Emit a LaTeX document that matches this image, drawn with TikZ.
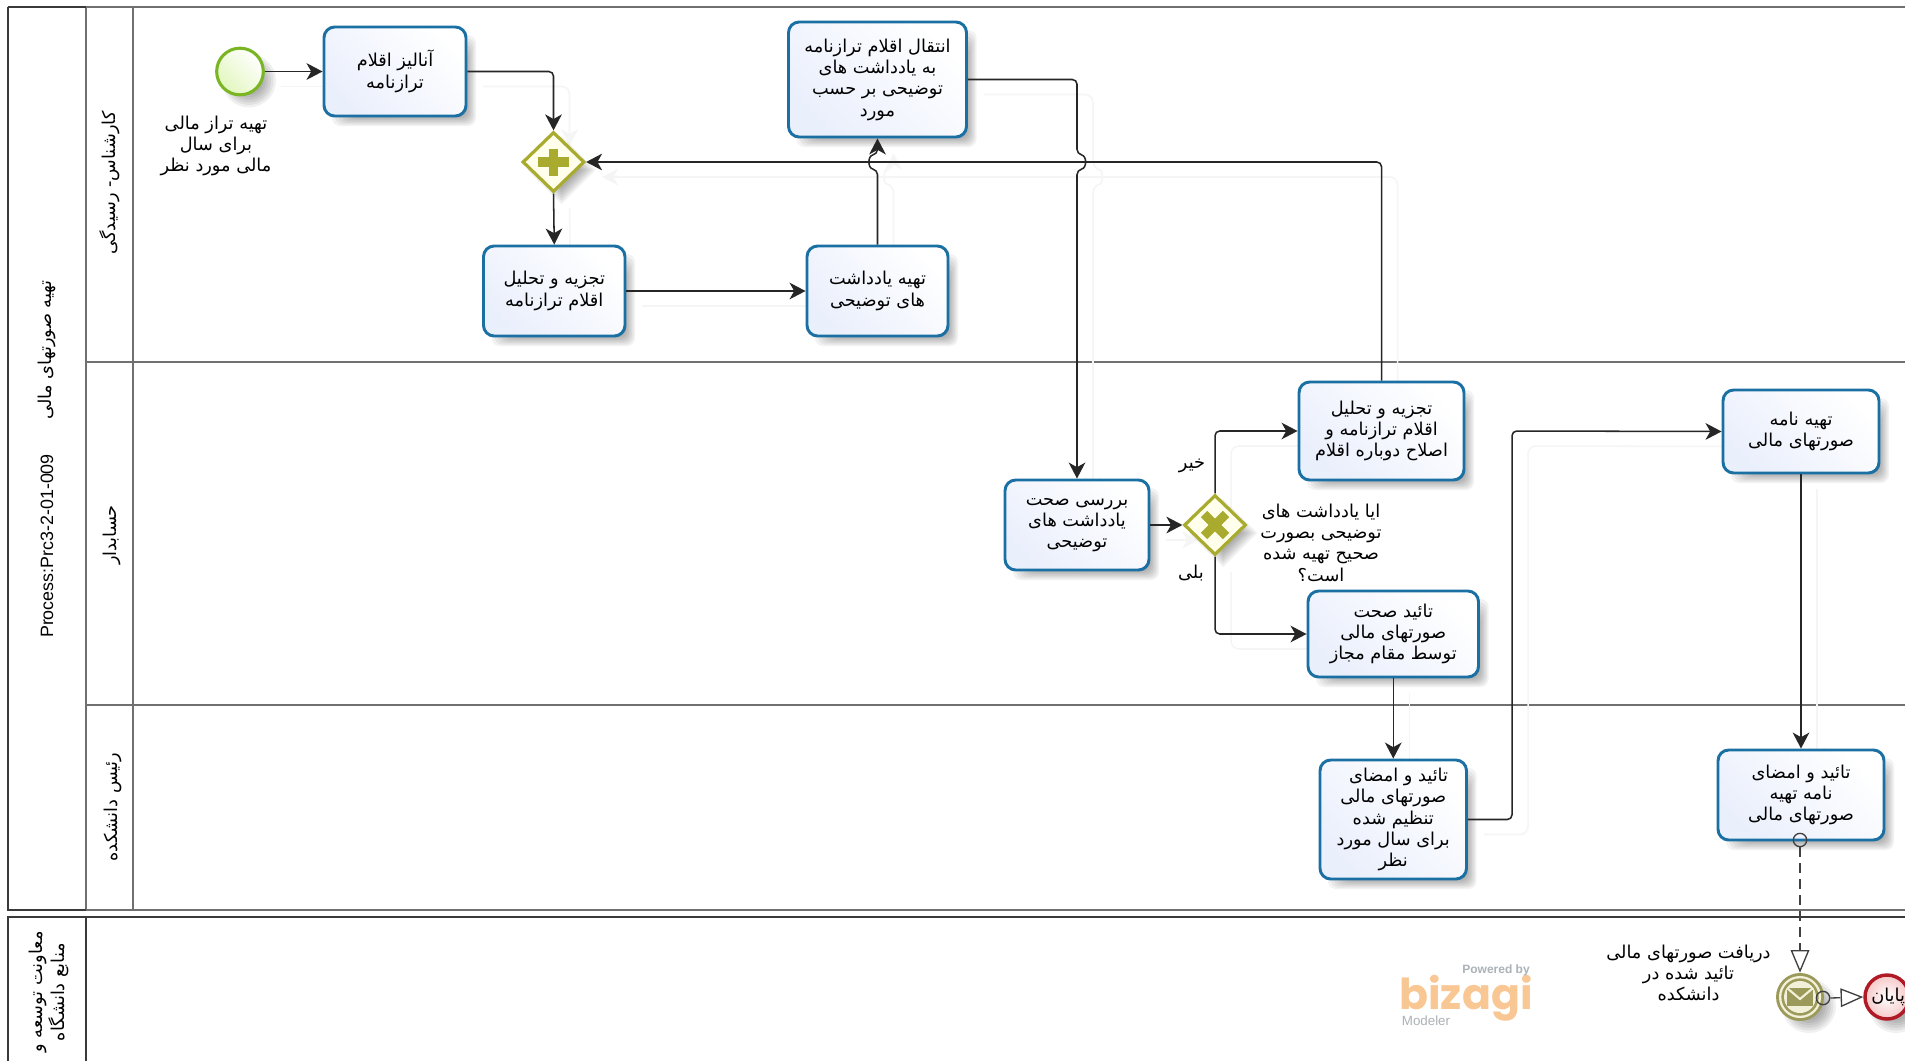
\documentclass[tikz,border=0pt]{standalone}
\usepackage{fontspec}
\usetikzlibrary{arrows.meta,shapes.geometric}
\TeXXeTstate=1
\newfontfamily\arabicfont[Script=Arabic]{DejaVu Sans}
\newfontfamily\latinfont{Liberation Sans}
\newfontfamily\logofont{Poppins}
\newcommand{\fa}[1]{{\arabicfont\beginR #1\endR}}
\definecolor{taskline}{HTML}{1A6FA3}
\definecolor{taskfill}{HTML}{EAEFFC}
\definecolor{gateline}{HTML}{A9AB2E}
\definecolor{gatefill}{HTML}{FFFFEC}
\definecolor{poolline}{HTML}{707070}
\definecolor{pooldark}{HTML}{3A3A3A}
\definecolor{msgolive}{HTML}{9B9A5A}
\definecolor{msgcream}{HTML}{F2F0D8}
\definecolor{logoorange}{HTML}{F9C793}
\definecolor{logogray}{HTML}{ABB2B8}
\definecolor{startline}{HTML}{7AB523}
\definecolor{startfill}{HTML}{E2F6BE}
\definecolor{endline}{HTML}{B01A26}
\definecolor{endfill}{HTML}{F6C8C8}
\pgfdeclarelayer{bg}
\pgfsetlayers{bg,main}
\tikzset{
  x=0.75pt,y=-0.75pt,
  taskbox/.style={draw=taskline,line width=2.2pt,rounded corners=8pt,shading=axis,
    top color=white,bottom color=taskfill,shading angle=-45,inner sep=0pt,align=center,
    font=\fontsize{13.3}{16}\selectfont},
  lbl/.style={inner sep=0pt,align=center,font=\fontsize{13.3}{16}\selectfont},
  lanelbl/.style={inner sep=0pt,align=center,rotate=90,font=\fontsize{13.3}{16}\selectfont},
  gatebox/.style={diamond,draw=gateline,line width=2.4pt,fill=gatefill,inner sep=0pt,
    minimum width=46.5pt,minimum height=45pt},
  gatemark/.style={draw=gateline,line width=6.8pt},
  flow/.style={draw=black!85,line width=1.15pt,rounded corners=3.5pt,
    -{Stealth[length=12pt,width=12.5pt,inset=3.5pt]}},
  msgflow/.style={draw=black!75,line width=1pt,dash pattern=on 7.5pt off 4.5pt,
    -{Triangle[open,length=17pt,width=14pt,fill=white]}},
  srccircle/.style={circle,draw=black!75,line width=1pt,fill=none,inner sep=0pt,minimum size=10pt},
  poolthin/.style={draw=poolline,line width=1.2pt},
  pooldarkline/.style={draw=pooldark,line width=1.4pt},
}
\newcommand{\softrect}[4]{%
  \foreach \i in {0,...,6}{%
    \pgfmathsetmacro{\xa}{#1+8+3*\i}\pgfmathsetmacro{\ya}{#2+8+3*\i}%
    \pgfmathsetmacro{\xb}{#3+10-1.5*\i}\pgfmathsetmacro{\yb}{#4+10-1.5*\i}%
    \fill[black,opacity=.05,rounded corners=6pt] (\xa,\ya) rectangle (\xb,\yb);}}
\newcommand{\softdisc}[3]{%
  \foreach \i in {0,...,5}{%
    \pgfmathsetmacro{\rr}{#3+3-2.5*\i}%
    \fill[black,opacity=.06] (#1+9,#2+9) circle ({\rr*0.75pt});}}
\newcommand{\softdiamond}[3]{%
  \foreach \i in {0,...,5}{%
    \pgfmathsetmacro{\rr}{#3+3-3*\i}%
    \fill[black,opacity=.06] (#1+8+\rr,#2+8) -- (#1+8,#2+8+\rr) -- (#1+8-\rr,#2+8) -- (#1+8,#2+8-\rr) -- cycle;}}
\newcommand{\mytask}[6]{%
  \softrect{#2}{#3}{#4}{#5}%
  \pgfmathsetmacro{\cx}{(#2+#4)/2}\pgfmathsetmacro{\cy}{(#3+#5)/2}%
  \pgfmathsetmacro{\ww}{(#4-#2)*0.75}\pgfmathsetmacro{\hh}{(#5-#3)*0.75}%
  \node[taskbox,minimum width=\ww pt,minimum height=\hh pt] (#1) at (\cx,\cy) {#6};}
\newcommand{\allflows}{%
  \draw[flow] (start.east) -- (t1.west);
  \draw[flow] (t1.east) -| (g1.north);
  \draw[flow] (g1.south) -- (t2.north);
  \draw[flow] (t2.east) -- (t3.west);
  \draw[flow] (t3.north) -- (hopa) .. controls ([shift={(-10,-2)}]hopa) and ([shift={(-10,-14)}]hopa) .. ([shift={(0,-16)}]hopa) -- (t4.south);
  \draw[flow] (t4.east) -| (hopb) .. controls ([shift={(10,2)}]hopb) and ([shift={(10,14)}]hopb) .. ([shift={(0,16)}]hopb) -- (t5.north);
  \draw[flow] (t6.north) |- (g1.east);
  \draw[flow] (t5.east) -- (g2.west);
  \draw[flow] (g2.north) |- (t6.west);
  \draw[flow] (g2.south) |- (t7.west);
  \draw[flow] (t7.south) -- (t8.north);
  \draw[flow] (t8.east) -| (bendc) -- (t10.west);
  \draw[flow] (t10.south) -- (t9.north);
}
\begin{document}
\begin{tikzpicture}
\path[use as bounding box,clip] (0,0) rectangle (1905,1061);
\begin{pgfonlayer}{bg}
  \fill[white] (0,0) rectangle (1905,1061);
  % pools and lanes
  \draw[poolthin] (8,7) -- (1905,7);
  \draw[poolthin] (86,362) -- (1905,362);
  \draw[poolthin] (86,705) -- (1905,705);
  \draw[poolthin] (133,7) -- (133,910);
  \draw[poolthin] (86,7) -- (86,910);
  \draw[poolthin] (8,910) -- (1905,910);
  \draw[pooldarkline] (8,7) -- (8,910) -- (86,910);
  \draw[pooldarkline] (8,7) -- (86,7);
  \draw[pooldarkline] (8,1061) -- (8,917) -- (1905,917);
  \draw[pooldarkline] (86,917) -- (86,1061);
\end{pgfonlayer}
% pool and lane titles
\node[inner sep=0pt,rotate=90,font=\latinfont\fontsize{13.4}{15}\selectfont] (proc) at (47,546) {Process:Prc3-2-01-009};
\node[lanelbl] (pooltitle) at (47,350) {\fa{تهیه  صورتهای  مالی}};
\node[lanelbl] (lanea) at (110,183) {\fa{کارشناس- رسیدگی}};
\node[lanelbl] (laneb) at (112,535) {\fa{حسابدار}};
\node[lanelbl] (lanec) at (113,807) {\fa{رئیس دانشکده}};
\node[lanelbl] (pooltwo) at (49,992) {\fa{معاونت توسعه و}\\\fa{منابع دانشگاه}};
% start event
\softdisc{240}{71.5}{24}
\node[circle,draw=startline,line width=2.3pt,inner sep=0pt,minimum size=35pt,shading=axis,top color=white,bottom color=startfill,shading angle=-45] (start) at (240,71.5) {};
\node[lbl] (startlbl) at (216,146) {\fa{تهیه تراز مالی}\\\fa{برای سال}\\\fa{مالی مورد نظر}};
% tasks
\mytask{t1}{324}{27}{466}{116}{\fa{آنالیز اقلام}\\\fa{ترازنامه}}
\mytask{t2}{483.5}{246}{625}{336}{\fa{تجزیه و تحلیل}\\\fa{اقلام ترازنامه}}
\mytask{t3}{807}{246}{948}{336}{\fa{تهیه یادداشت}\\\fa{های توضیحی}}
\mytask{t4}{788.5}{22}{966.5}{137}{\fa{انتقال اقلام ترازنامه}\\\fa{به یادداشت های}\\\fa{توضیحی بر حسب}\\\fa{مورد}}
\mytask{t5}{1005}{480}{1149}{570}{\fa{بررسی صحت}\\\fa{یادداشت های}\\\fa{توضیحی}}
\mytask{t6}{1299}{382}{1464}{480}{\fa{تجزیه و تحلیل}\\\fa{اقلام ترازنامه و}\\\fa{اصلاح دوباره اقلام}}
\mytask{t7}{1308}{591}{1478.5}{677}{\fa{تائید صحت}\\\fa{صورتهای مالی}\\\fa{توسط مقام مجاز}}
\mytask{t8}{1320}{760}{1466.5}{879}{\fa{تائید و امضای\hspace{8pt}}\\\fa{صورتهای مالی}\\\fa{تنظیم شده}\\\fa{برای سال مورد}\\\fa{نظر}}
\mytask{t9}{1718}{750}{1884}{840}{\fa{تائید و امضای}\\\fa{نامه تهیه}\\\fa{صورتهای مالی}}
\mytask{t10}{1723}{390}{1879}{473}{\fa{تهیه نامه}\\\fa{صورتهای مالی}}
% gateways
\softdiamond{553.5}{162}{31}
\node[gatebox] (g1) at (553.5,162) {};
\draw[gatemark] (538,162) -- (569,162);
\draw[gatemark] (553.5,148.5) -- (553.5,175.5);
\softdiamond{1215}{525}{31}
\node[gatebox] (g2) at (1215,525) {};
\draw[gatemark] (1204,514) -- (1226,536);
\draw[gatemark] (1204,536) -- (1226,514);
% gateway labels
\node[lbl] (nolbl) at (1192,466) {\fa{خیر}};
\node[lbl] (yeslbl) at (1191,573) {\fa{بلی}};
\node[lbl] (qlbl) at (1321,542.5) {\fa{ایا یادداشت های}\\\fa{توضیحی بصورت}\\\fa{صحیح تهیه شده}\\\fa{است؟}};
\node[lbl] (msglbl) at (1688.5,973) {\fa{دریافت صورتهای مالی}\\\fa{تائید شده  در}\\\fa{دانشکده}};
% intermediate message event
\softdisc{1800}{997}{24}
\node[circle,fill=msgolive,inner sep=0pt,minimum size=36pt] (msg) at (1800,997) {};
\fill[msgcream] (msg.center) circle (15.8pt);
\fill[msgolive] (msg.center) circle (14pt);
\fill[msgcream] (msg.center) circle (12pt);
\fill[msgolive] (1787,988) rectangle (1813,1005.5);
\draw[msgcream,line width=1.6pt] (1787,988) -- (1800,999) -- (1813,988);
% end event
\softdisc{1887}{997}{24}
\node[circle,draw=endline,line width=2.6pt,inner sep=0pt,minimum size=33pt,shading=radial,inner color=white,outer color=endfill] (endev) at (1887,997) {};
\node[lbl,anchor=west] (endlbl) at (1871,997) {\fa{پایان}};
% bizagi mark
\node[inner sep=0pt,text=logoorange,font=\logofont\bfseries\fontsize{32}{32}\selectfont] (logo) at (1466,998) {bizagi};
\node[inner sep=0pt,text=logogray,font=\latinfont\bfseries\fontsize{9}{10}\selectfont] (logoa) at (1496,970) {Powered by};
\node[inner sep=0pt,text=logogray,font=\latinfont\fontsize{10}{10}\selectfont] (logob) at (1426,1021) {Modeler};
% connector helpers
\coordinate (hopa) at (877.5,170);
\coordinate (hopb) at (1077,154);
\coordinate (bendc) at (1512,431);
\begin{pgfonlayer}{bg}
  \begin{scope}[transform canvas={shift={(16,15)}},
      flow/.style={draw=black!4,line width=1.15pt,rounded corners=6pt,-{Stealth[length=12pt,width=12.5pt,inset=3.5pt]}}]
    \allflows
  \end{scope}
\end{pgfonlayer}
\allflows
% message flows
\node[srccircle] (srca) at (1800,840) {};
\node[srccircle] (srcb) at (1823,998) {};
\draw[msgflow] (srca.south) -- (msg.north);
\draw[msgflow] (srcb.east) -- (endev.west);
\end{tikzpicture}
\end{document}
